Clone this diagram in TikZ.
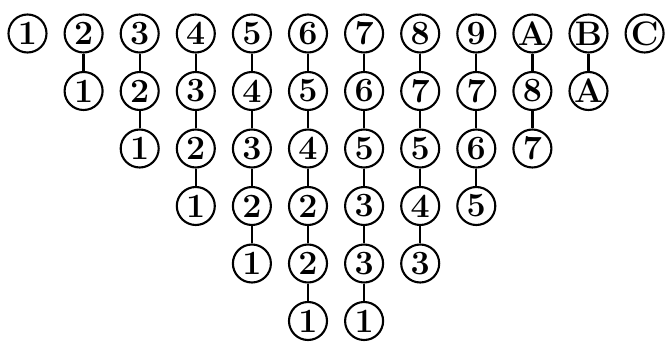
\documentclass[tikz,border=0pt]{standalone}
\usepackage{fontspec}
\usepackage{tikz}
\usetikzlibrary{positioning}

\tikzset{
  ball/.style={circle, draw, line width=1.8pt, minimum size=1.14cm, inner sep=0pt,
    font=\fontsize{29}{29}\selectfont\bfseries},
  stick/.style={line width=1.9pt}
}

\begin{document}
\begin{tikzpicture}[x=0.03cm, y=-0.03cm]
            \useasboundingbox (0,0) rectangle (666,342);
            % one column per top value, read downwards
            \foreach \col/\labels in {1/{1}, 2/{2,1}, 3/{3,2,1}, 4/{4,3,2,1},
                5/{5,4,3,2,1}, 6/{6,5,4,2,2,1}, 7/{7,6,5,3,3,1},
                8/{8,7,5,4,3}, 9/{9,7,6,5}, 10/{A,8,7}, 11/{B,A}, 12/{C}} {
                \foreach \lab [count=\row, remember=\row as \prev (initially 0)] in \labels {
                    \node[ball] (b\col-\row) at ({27.5+56.1*(\col-1)},{33.5+57.5*(\row-1)}) {\lab};
                    \ifnum\prev>0
                        \draw[stick] (b\col-\prev) -- (b\col-\row);
                    \fi
                }
            }
        \end{tikzpicture}
\end{document}
